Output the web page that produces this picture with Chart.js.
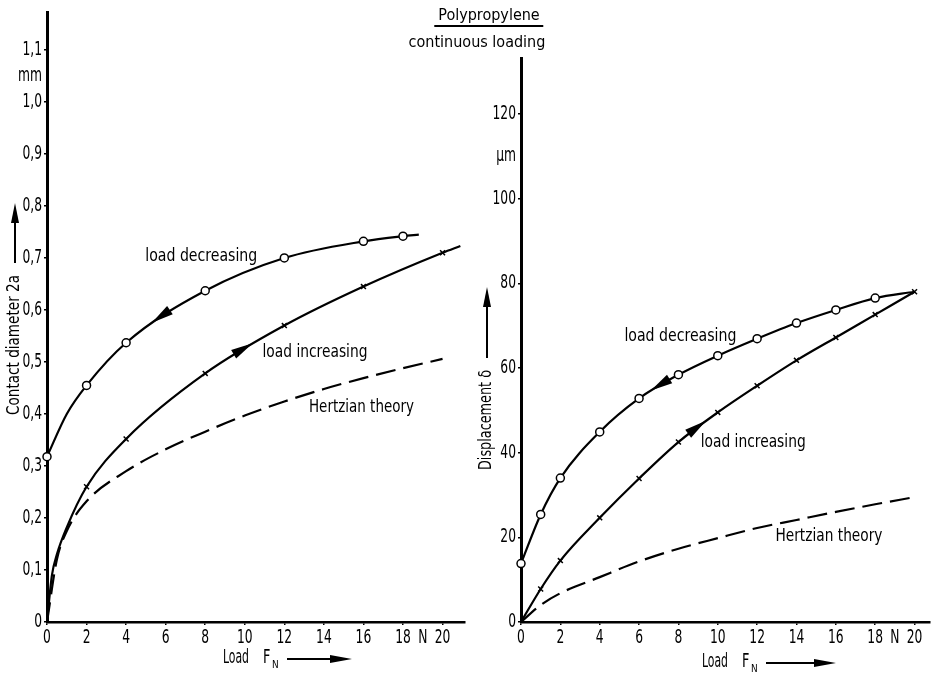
<!DOCTYPE html>
<html>
<head>
<meta charset="utf-8">
<script src="https://cdn.jsdelivr.net/npm/chart.js@4/dist/chart.umd.min.js"></script>
<style>
    html, body { margin: 0; padding: 0; background: #fff; }
    #wrap { position: relative; width: 935px; height: 674px; overflow: hidden; }
    #diam-chart { position: absolute; left: 0; top: 0; }
    #disp-chart { position: absolute; left: 470px; top: 0; }
    .head {
        position: absolute; color: #000; white-space: nowrap;
        font-family: 'DejaVu Sans Condensed', sans-serif;
        font-size: 16px; transform: translateX(-50%);
    }
    .head.main { left: 489px; top: 5px; padding: 0 4px 1px; border-bottom: 2px solid #000; }
    .head.sub { left: 477px; top: 32px; }
</style>
</head>
<body>
<div id="wrap">
    <canvas id="diam-chart" width="470" height="674"></canvas>
    <canvas id="disp-chart" width="465" height="674"></canvas>
    <div class="head main">Polypropylene</div>
    <div class="head sub">continuous loading</div>
</div>
<script>
const FONT = "'DejaVu Sans Condensed', sans-serif";
const TICK_SIZE = 19;
const TICK_SQUEEZE = 0.72;   // narrow the digits horizontally

// Shared load axis (N); the "N" unit sits in the slot at 19
const loadTicks = [0, 2, 4, 6, 8, 10, 12, 14, 16, 18, 19, 20];
const loadTickLabels = ['0', '2', '4', '6', '8', '10', '12', '14', '16', '18', 'N', '20'];

// Contact diameter 2a (mm)
const diamTicks = [0, 0.1, 0.2, 0.3, 0.4, 0.5, 0.6, 0.7, 0.8, 0.9, 1.0, 1.05, 1.1];
const diamTickLabels = ['0', '0,1', '0,2', '0,3', '0,4', '0,5', '0,6', '0,7', '0,8', '0,9', '1,0', 'mm', '1,1'];

const diamDecLoad  = [0, 1, 2, 4, 8, 12, 16, 18, 18.8];
const diamDecValue = [0.318, 0.40, 0.455, 0.537, 0.637, 0.700, 0.732, 0.742, 0.745];
const diamDecMeasured = [1, 0, 1, 1, 1, 1, 1, 1, 0];

const diamIncLoad  = [0, 0.25, 0.5, 1, 2, 4, 8, 12, 16, 20, 20.9];
const diamIncValue = [0, 0.09, 0.13, 0.182, 0.26, 0.352, 0.478, 0.57, 0.645, 0.71, 0.723];
const diamIncMeasured = [0, 0, 0, 0, 1, 1, 1, 1, 1, 1, 0];

const diamHertzLoad  = [0, 0.5, 1, 2, 4, 6, 8, 10, 12, 14, 16, 18, 20];
const diamHertzValue = [0, 0.12, 0.175, 0.232, 0.29, 0.332, 0.366, 0.397, 0.424, 0.448, 0.469, 0.488, 0.506];

// Displacement delta (µm)
const dispTicks = [0, 20, 40, 60, 80, 100, 110, 120];
const dispTickLabels = ['0', '20', '40', '60', '80', '100', 'µm', '120'];

const dispDecLoad  = [0, 1, 2, 4, 6, 8, 10, 12, 14, 16, 18, 20];
const dispDecValue = [13.8, 25.4, 34, 44.9, 52.8, 58.4, 62.9, 66.9, 70.6, 73.7, 76.5, 78];
const dispDecMeasured = [1, 1, 1, 1, 1, 1, 1, 1, 1, 1, 1, 0];

const dispIncLoad  = [0, 1, 2, 4, 6, 8, 10, 12, 14, 16, 18, 20];
const dispIncValue = [0, 7.8, 14.5, 24.6, 33.9, 42.5, 49.5, 55.8, 61.8, 67.2, 72.6, 78];
const dispIncMeasured = [0, 1, 1, 1, 1, 1, 1, 1, 1, 1, 1, 1];

const dispHertzLoad  = [0, 1, 2, 4, 6, 8, 10, 12, 14, 16, 18, 20];
const dispHertzValue = [0, 4, 6.8, 10.6, 14.3, 17.3, 19.8, 22.2, 24.1, 26, 27.8, 29.5];


function pts(xs, ys) {
    return xs.map((x, i) => ({ x, y: ys[i] }));
}

function curve(xs, ys, measured, style) {
    return {
        data: pts(xs, ys),
        borderColor: '#000',
        borderWidth: 2.2,
        backgroundColor: '#fff',
        cubicInterpolationMode: 'monotone',
        pointStyle: style,
        pointRadius: ctx => measured[ctx.dataIndex] ? (style === 'circle' ? 4 : 3.5) : 0,
        pointBorderWidth: 1.5,
        pointBorderColor: '#000',
        pointBackgroundColor: '#fff',
        clip: false,
    };
}

function dashed(xs, ys) {
    return {
        data: pts(xs, ys),
        borderColor: '#000',
        borderWidth: 2.2,
        borderDash: [20, 8],
        cubicInterpolationMode: 'monotone',
        pointRadius: 0,
        clip: false,
    };
}

function arrowHead(ctx, x, y, ang, len, half) {
    ctx.save();
    ctx.translate(x, y);
    ctx.rotate(ang);
    ctx.beginPath();
    ctx.moveTo(0, 0);
    ctx.lineTo(-len, -half);
    ctx.lineTo(-len, half);
    ctx.closePath();
    ctx.fill();
    ctx.restore();
}

// Text squeezed horizontally by sx (or to a given width when sx < 0)
function squeezed(ctx, text, x, y, size, sx, align) {
    ctx.save();
    ctx.font = `${size}px ${FONT}`;
    const w = ctx.measureText(text).width;
    const k = sx < 0 ? -sx / w : sx;
    const dx = align === 'right' ? -w * k : align === 'center' ? -w * k / 2 : 0;
    ctx.translate(x + dx, y);
    ctx.scale(k, 1);
    ctx.textAlign = 'left';
    ctx.textBaseline = 'middle';
    ctx.fillText(text, 0, 0);
    ctx.restore();
    return w * k;
}

// Tick labels, curve labels, direction arrows on the curves and axis titles
function notes(cfg) {
    return {
        id: 'notes',
        afterDatasetsDraw(chart) {
            const { ctx } = chart;
            const xs = chart.scales.x, ys = chart.scales.y;
            ctx.save();
            ctx.fillStyle = '#000';
            ctx.strokeStyle = '#000';

            loadTicks.forEach((v, i) => {
                squeezed(ctx, loadTickLabels[i], xs.getPixelForValue(v), xs.top + 16, TICK_SIZE, TICK_SQUEEZE, 'center');
            });
            cfg.yTicks.forEach((v, i) => {
                squeezed(ctx, cfg.yLabels[i], ys.right - 5, ys.getPixelForValue(v), TICK_SIZE, TICK_SQUEEZE, 'right');
            });

            cfg.labels.forEach(l => {
                squeezed(ctx, l.text, xs.getPixelForValue(l.x), ys.getPixelForValue(l.y), 17, -l.w, 'center');
            });

            cfg.arrows.forEach(a => {
                const line = chart.getDatasetMeta(a.ds).dataset;
                const px = xs.getPixelForValue(a.at);
                const p = line.interpolate({ x: px }, 'x');
                const q = line.interpolate({ x: px - a.dir * 5 }, 'x');
                if (!p || !q) return;
                arrowHead(ctx, p.x, p.y, Math.atan2(p.y - q.y, p.x - q.x), 22, 5);
            });

            // x title: "Load F_N ——>"
            const t = cfg.xTitle;
            squeezed(ctx, 'Load', t.x, t.y, 19, -26, 'left');
            squeezed(ctx, 'F', t.fx, t.y, 19, 0.75, 'left');
            squeezed(ctx, 'N', t.fx + 9, t.y + 7, 11, 0.9, 'left');
            ctx.lineWidth = 2;
            ctx.beginPath();
            ctx.moveTo(t.lineFrom, t.y + 1);
            ctx.lineTo(t.lineTo - 16, t.y + 1);
            ctx.stroke();
            arrowHead(ctx, t.lineTo, t.y + 1, 0, 22, 4);

            // y title, rotated, with the arrow pointing up
            const v = cfg.yTitle;
            ctx.save();
            ctx.translate(v.x, v.y);
            ctx.rotate(-Math.PI / 2);
            squeezed(ctx, v.text, 0, 0, 17, -v.w, 'left');
            ctx.lineWidth = 2;
            ctx.beginPath();
            ctx.moveTo(v.w + 12, 0);
            ctx.lineTo(v.len - 15, 0);
            ctx.stroke();
            arrowHead(ctx, v.len, 0, 0, 20, 4);
            ctx.restore();

            ctx.restore();
        },
    };
}

function loadAxis(max) {
    return {
        type: 'linear',
        min: 0,
        max,
        afterBuildTicks: s => { s.ticks = loadTicks.map(value => ({ value })); },
        afterFit: s => { s.height = 52; },
        ticks: { display: false },
        grid: {
            drawOnChartArea: false,
            tickLength: 3,
            tickColor: c => (c.tick && c.tick.value === 19) ? 'rgba(0,0,0,0)' : '#000',
            lineWidth: 1.5,
        },
        border: { display: true, color: '#000', width: 2.6 },
    };
}

function valueAxis(max, ticks, width, unitValue) {
    return {
        type: 'linear',
        min: 0,
        max,
        afterBuildTicks: s => { s.ticks = ticks.map(value => ({ value })); },
        afterFit: s => { s.width = width; },
        ticks: { display: false },
        grid: {
            drawOnChartArea: false,
            tickLength: 3,
            tickColor: c => (c.tick && c.tick.value === unitValue) ? 'rgba(0,0,0,0)' : '#000',
            lineWidth: 1.5,
        },
        border: { display: true, color: '#000', width: 3 },
    };
}

const baseOptions = {
    responsive: false,
    animation: false,
    events: [],
    plugins: { legend: { display: false }, tooltip: { enabled: false } },
};

new Chart(document.getElementById('diam-chart'), {
    type: 'line',
    data: {
        datasets: [
            curve(diamDecLoad, diamDecValue, diamDecMeasured, 'circle'),
            curve(diamIncLoad, diamIncValue, diamIncMeasured, 'crossRot'),
            dashed(diamHertzLoad, diamHertzValue),
        ],
    },
    options: {
        ...baseOptions,
        layout: { padding: { top: 12, right: 5, left: 0, bottom: 0 } },
        scales: {
            x: loadAxis(21.11),
            y: valueAxis(1.173, diamTicks, 47, 1.05),
        },
    },
    plugins: [notes({
        yTicks: diamTicks,
        yLabels: diamTickLabels,
        labels: [
            { text: 'load decreasing', x: 7.8, y: 0.702, w: 112 },
            { text: 'load increasing', x: 13.55, y: 0.519, w: 105 },
            { text: 'Hertzian theory', x: 15.9, y: 0.412, w: 105 },
        ],
        arrows: [
            { ds: 0, at: 5.3, dir: -1 },
            { ds: 1, at: 10.4, dir: 1 },
        ],
        xTitle: { x: 223, fx: 263, y: 658, lineFrom: 287, lineTo: 352 },
        yTitle: { x: 15, y: 415, text: 'Contact diameter 2a', w: 140, len: 212 },
    })],
});

new Chart(document.getElementById('disp-chart'), {
    type: 'line',
    data: {
        datasets: [
            curve(dispDecLoad, dispDecValue, dispDecMeasured, 'circle'),
            curve(dispIncLoad, dispIncValue, dispIncMeasured, 'crossRot'),
            dashed(dispHertzLoad, dispHertzValue),
        ],
    },
    options: {
        ...baseOptions,
        layout: { padding: { top: 58, right: 3, left: 0, bottom: 0 } },
        scales: {
            x: loadAxis(20.76),
            y: valueAxis(133.2, dispTicks, 51, 110),
        },
    },
    plugins: [notes({
        yTicks: dispTicks,
        yLabels: dispTickLabels,
        labels: [
            { text: 'load decreasing', x: 8.1, y: 67.5, w: 112 },
            { text: 'load increasing', x: 11.8, y: 42.3, w: 105 },
            { text: 'Hertzian theory', x: 15.65, y: 20.1, w: 107 },
        ],
        arrows: [
            { ds: 0, at: 6.6, dir: -1 },
            { ds: 1, at: 9.4, dir: 1 },
        ],
        xTitle: { x: 232, fx: 272, y: 662, lineFrom: 296, lineTo: 366 },
        yTitle: { x: 17, y: 470, text: 'Displacement δ', w: 100, len: 183 },
    })],
});
</script>
</body>
</html>
